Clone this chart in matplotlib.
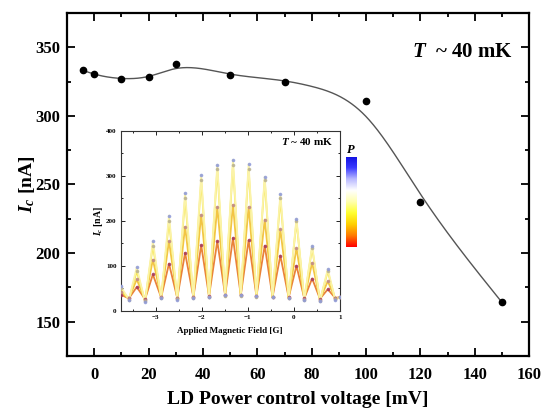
import numpy as np
import matplotlib
matplotlib.use("Agg")
import matplotlib.pyplot as plt
from matplotlib.colors import LinearSegmentedColormap
from matplotlib.ticker import MultipleLocator

plt.rcParams['font.family'] = ['Liberation Serif', 'DejaVu Serif']
plt.rcParams['font.weight'] = 'bold'
plt.rcParams['mathtext.fontset'] = 'custom'
plt.rcParams['mathtext.it'] = 'Liberation Serif:italic:bold'
plt.rcParams['mathtext.rm'] = 'Liberation Serif:bold'
plt.rcParams['mathtext.bf'] = 'Liberation Serif:bold'

# ---- main data ----
voltage = [-4, 0, 10, 20, 30, 50, 70, 100, 120, 150]
ic_main = [333.2, 330.5, 326.8, 328.0, 337.8, 330.0, 324.9, 310.7, 237.4, 163.9]

# smooth guide curve knots
fit_x = [-4, 0, 10, 20, 30, 35, 50, 70, 80, 90, 100, 110, 120, 135, 150]
fit_y = [333, 330.5, 327.3, 328.8, 334.5, 335.2, 330.5, 325.5, 321.5, 314.5, 299.5, 273.5, 243, 201.5, 164]

# ---- inset data ----
peak_B = [-3.41, -3.06, -2.71, -2.36, -2.01, -1.66, -1.32, -0.98, -0.63, -0.29, 0.06, 0.40, 0.74]
valley_B = [-3.76, -3.58, -3.23, -2.88, -2.53, -2.18, -1.84, -1.49, -1.15, -0.81, -0.46, -0.11, 0.23, 0.57, 0.90]
end_B = 1.0
peaks_1 = [97, 155, 212, 262, 302, 325, 336, 326, 298, 260, 205, 145, 93]
peaks_2 = [88, 145, 200, 250, 290, 315, 325, 315, 290, 250, 200, 140, 88]
peaks_3 = [70, 114, 155, 187, 214, 231, 236, 231, 203, 181, 140, 107, 66]
peaks_4 = [53, 81, 105, 129, 146, 155, 162, 157, 145, 123, 100, 72, 48]
valleys_1 = [55, 25, 20, 28, 25, 28, 30, 35, 35, 33, 30, 28, 25, 22, 25]
valleys_2 = [50, 25, 22, 28, 26, 28, 30, 34, 34, 32, 30, 28, 25, 23, 26]
valleys_3 = [42, 28, 24, 30, 28, 30, 32, 35, 35, 33, 31, 29, 27, 25, 28]
valleys_4 = [36, 28, 26, 30, 29, 31, 33, 35, 35, 33, 31, 30, 28, 27, 29]
end_vals = [30, 30, 30, 30]
line_colors = ['#fbf3a8', '#f6e64a', '#f2c544', '#e9823a']
marker_colors = ['#8f9ad8', '#b8b090', '#c08a88', '#a83a5a']

cb_colors = ['#ff0000', '#ff7a00', '#ffd000', '#ffff30', '#ffffb0', '#ffffff', '#b8b8ff', '#3a3aff', '#1010e0']


def natural_spline(x, y, xs):
    x = np.asarray(x, float); y = np.asarray(y, float)
    n = len(x); h = np.diff(x)
    A = np.zeros((n, n)); r = np.zeros(n)
    A[0, 0] = 1; A[-1, -1] = 1
    for i in range(1, n - 1):
        A[i, i - 1] = h[i - 1]; A[i, i] = 2 * (h[i - 1] + h[i]); A[i, i + 1] = h[i]
        r[i] = 6 * ((y[i + 1] - y[i]) / h[i] - (y[i] - y[i - 1]) / h[i - 1])
    M = np.linalg.solve(A, r)
    idx = np.clip(np.searchsorted(x, xs) - 1, 0, n - 2)
    x0, x1 = x[idx], x[idx + 1]; hh = x1 - x0
    a = (x1 - xs) / hh; b = (xs - x0) / hh
    return a * y[idx] + b * y[idx + 1] + ((a**3 - a) * M[idx] + (b**3 - b) * M[idx + 1]) * hh**2 / 6


fig = plt.figure(figsize=(5.41, 4.08), dpi=100)
ax = fig.add_axes([0.124, 0.128, 0.854, 0.84])

xs = np.linspace(fit_x[0], fit_x[-1], 600)
ax.plot(xs, natural_spline(fit_x, fit_y, xs), color='#555555', lw=1.0, zorder=2)
ax.plot(voltage, ic_main, 'o', color='black', ms=4.5, zorder=3)

ax.set_xlim(-10, 160)
ax.set_ylim(125, 375)
ax.xaxis.set_major_locator(MultipleLocator(20))
ax.xaxis.set_minor_locator(MultipleLocator(10))
ax.yaxis.set_major_locator(MultipleLocator(50))
ax.yaxis.set_minor_locator(MultipleLocator(25))
ax.tick_params(which='both', direction='in', top=True, right=True, width=1.3)
ax.tick_params(which='major', length=6, labelsize=12)
ax.tick_params(axis='x', which='major', pad=8)
ax.tick_params(axis='y', which='major', pad=5)
ax.tick_params(which='minor', length=3)
for s in ax.spines.values():
    s.set_linewidth(1.6)
for lab in ax.get_xticklabels() + ax.get_yticklabels():
    lab.set_fontweight('bold')
ax.set_xlabel('LD Power control voltage [mV]', fontsize=14, fontweight='bold', labelpad=6)
ax.set_ylabel(r'$I_c$ [nA]', fontsize=14, fontweight='bold', labelpad=-1)
ax.text(0.965, 0.885, r'$T$  ~ 40 mK', transform=ax.transAxes, ha='right', va='center',
        fontsize=15, fontweight='bold')

# ---- inset ----
ins = fig.add_axes([0.223, 0.238, 0.405, 0.441])
peak_sets = [peaks_1, peaks_2, peaks_3, peaks_4]
valley_sets = [valleys_1, valleys_2, valleys_3, valleys_4]
for k in range(3, -1, -1):
    bx = np.array(valley_B + peak_B + [end_B])
    by = np.array(valley_sets[k] + peak_sets[k] + [end_vals[k]])
    order = np.argsort(bx)
    bx, by = bx[order], by[order]
    ins.plot(bx, by, '-', color=line_colors[k], lw=1.3, zorder=2 + (3 - k))
    ins.plot(bx, by, 'o', color=marker_colors[k], ms=1.6, alpha=0.8, zorder=6)
ins.set_xlim(-3.76, 1.0)
ins.set_ylim(0, 400)
ins.xaxis.set_major_locator(MultipleLocator(1))
ins.xaxis.set_minor_locator(MultipleLocator(0.5))
ins.yaxis.set_major_locator(MultipleLocator(100))
ins.yaxis.set_minor_locator(MultipleLocator(50))
ins.tick_params(which='both', direction='in', top=True, right=True, width=0.6, labelsize=5, pad=3)
ins.tick_params(which='major', length=3)
ins.tick_params(which='minor', length=1.5)
for s in ins.spines.values():
    s.set_linewidth(0.8); s.set_color('#333333')
for lab in ins.get_xticklabels() + ins.get_yticklabels():
    lab.set_fontweight('bold')
ins.set_xlabel('Applied Magnetic Field [G]', fontsize=6.5, fontweight='bold', labelpad=5)
ins.set_ylabel(r'$I_c$ [nA]', fontsize=7, fontweight='bold', labelpad=1)
ins.text(0.97, 0.94, r'$T$ ~ 40 mK', transform=ins.transAxes, ha='right', va='center',
         fontsize=8, fontweight='bold')

# ---- colorbar ----
cax = fig.add_axes([0.6396, 0.3946, 0.0203, 0.2206])
cmap = LinearSegmentedColormap.from_list('p', cb_colors)
grad = np.linspace(0, 1, 256).reshape(-1, 1)
cax.imshow(grad, aspect='auto', cmap=cmap, origin='lower')
cax.set_axis_off()
fig.text(0.649, 0.632, r'$P$', ha='center', va='center', fontsize=9, fontweight='bold')

fig.savefig('out.png', dpi=100)
